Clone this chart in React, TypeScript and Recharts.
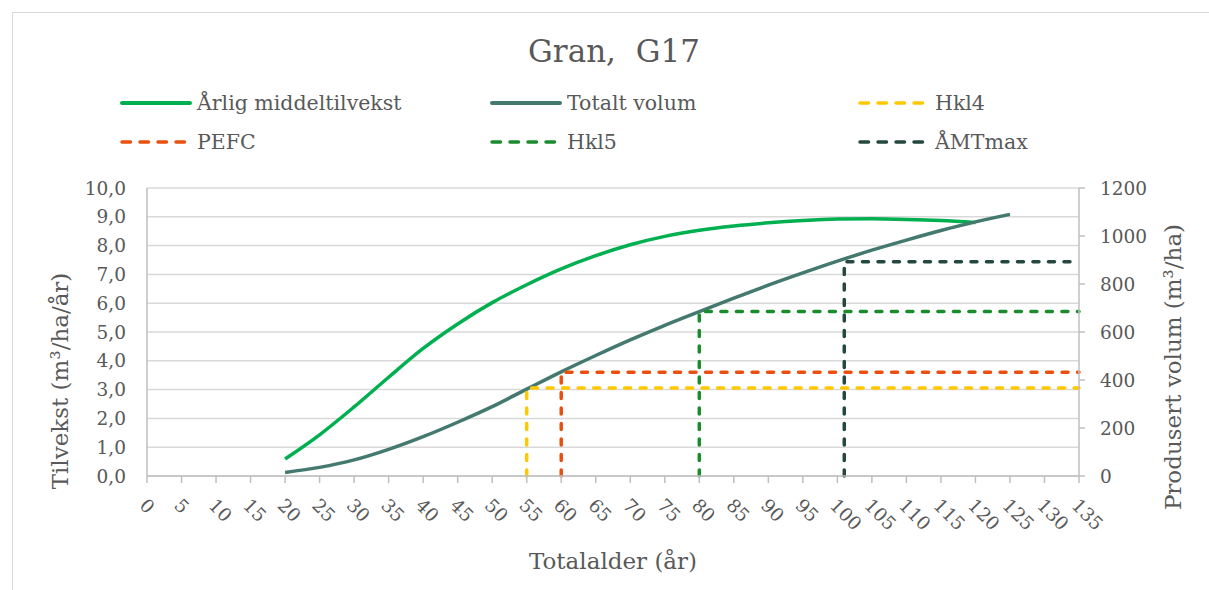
import { ComposedChart, Line, XAxis, YAxis, CartesianGrid, Label } from 'recharts'

// Alder (år) for kurvene
const ages = [20, 25, 30, 35, 40, 45, 50, 55, 60, 65, 70, 75, 80, 85, 90, 95, 100, 105, 110, 115, 120, 125]

// Årlig middeltilvekst (m³/ha/år), venstre akse
const middeltilvekst = [0.59, 1.43, 2.4, 3.43, 4.43, 5.28, 6.02, 6.64, 7.19, 7.65, 8.03, 8.32, 8.53, 8.68, 8.79, 8.87, 8.92, 8.93, 8.91, 8.87, 8.8, null]

// Totalt volum (m³/ha), høyre akse
const totaltVolum = [15, 36, 67, 111, 164, 224, 289, 362, 434, 502, 567, 628, 685, 741, 795, 846, 895, 941, 983, 1023, 1059, 1090]

const xTicks = [0, 5, 10, 15, 20, 25, 30, 35, 40, 45, 50, 55, 60, 65, 70, 75, 80, 85, 90, 95, 100, 105, 110, 115, 120, 125, 130, 135]
const leftTicks = [0, 1, 2, 3, 4, 5, 6, 7, 8, 9, 10]
const rightTicks = [0, 200, 400, 600, 800, 1000, 1200]

// Stiplede markeringer: alder og volum
const markerNames = ['Hkl4', 'PEFC', 'Hkl5', 'ÅMTmax']
const markerAges = [55, 60, 80, 101]
const markerVolum = [367, 432, 685, 893]
const markerColors = ['#ffc800', '#e9500f', '#1a8c2e', '#24473f']

const FONT = '"DejaVu Serif", Georgia, serif'
const TEXT = '#595959'
const GREEN = '#00b050'
const TEAL = '#44796f'

const data = ages.map((age, i) => ({ age, amt: middeltilvekst[i], vol: totaltVolum[i] }))

const markers = markerNames.map((name, i) => ({
  name,
  color: markerColors[i],
  data: [
    { age: markerAges[i], vol: 0 },
    { age: markerAges[i], vol: markerVolum[i] },
    { age: 135, vol: markerVolum[i] },
  ],
}))

const legendItems = [
  { name: 'Årlig middeltilvekst', color: GREEN, dashed: false },
  { name: 'Totalt volum', color: TEAL, dashed: false },
  { name: markerNames[0], color: markerColors[0], dashed: true },
  { name: markerNames[1], color: markerColors[1], dashed: true },
  { name: markerNames[2], color: markerColors[2], dashed: true },
  { name: markerNames[3], color: markerColors[3], dashed: true },
]
const legendCols = [120, 490, 858]
const legendRows = [103, 142]

function AgeTick({ x, y, payload }: any) {
  const px = x - 4
  const py = y + 19
  return (
    <text
      x={px}
      y={py}
      transform={`rotate(45 ${px} ${py})`}
      textAnchor="start"
      dominantBaseline="central"
      fill={TEXT}
      fontSize={18.5}
      fontFamily={FONT}
    >
      {payload.value}
    </text>
  )
}

function VerticalTitle({ viewBox, value, dx, dy }: any) {
  const cx = viewBox.x + dx
  const cy = viewBox.y + viewBox.height / 2 + dy
  return (
    <text
      x={cx}
      y={cy}
      transform={`rotate(-90 ${cx} ${cy})`}
      textAnchor="middle"
      dominantBaseline="central"
      fill={TEXT}
      fontSize={23}
      fontFamily={FONT}
    >
      {value}
    </text>
  )
}

export default function App() {
  return (
    <div style={{ position: 'absolute', left: 0, top: 0, width: 1209, height: 590, overflow: 'hidden', background: '#fff' }}>
      <div style={{
        position: 'absolute',
        left: 12,
        top: 12,
        width: 1209,
        height: 590,
        borderTop: '1.5px solid #d9d9d9',
        borderLeft: '1.5px solid #d9d9d9',
      }} />
      <div style={{
        position: 'absolute',
        left: 0,
        width: 1228,
        top: 33,
        textAlign: 'center',
        fontFamily: FONT,
        fontSize: 31,
        color: TEXT,
        whiteSpace: 'pre',
      }}>
        Gran,  G17
      </div>

      {/* forklaring */}
      {legendItems.map((item, i) => (
        <div key={item.name} style={{
          position: 'absolute',
          left: legendCols[i % 3],
          top: legendRows[Math.floor(i / 3)] - 14,
          height: 28,
          display: 'flex',
          alignItems: 'center',
          fontFamily: FONT,
          fontSize: 20.5,
          color: TEXT,
        }}>
          <svg width={72} height={8} style={{ marginRight: 5 }}>
            <line
              x1={2}
              x2={70}
              y1={4}
              y2={4}
              stroke={item.color}
              strokeWidth={item.dashed ? 3.5 : 4}
              strokeDasharray={item.dashed ? '8.5 9.5' : undefined}
              strokeLinecap="round"
            />
          </svg>
          {item.name}
        </div>
      ))}

      <ComposedChart
        width={1209}
        height={590}
        data={data}
        margin={{ top: 188, right: 0, bottom: 14, left: 12 }}
        style={{ position: 'absolute', left: 0, top: 0 }}
      >
        <CartesianGrid yAxisId="left" vertical={false} stroke="#d9d9d9" strokeWidth={1.5} />
        <XAxis
          dataKey="age"
          type="number"
          domain={[0, 135]}
          ticks={xTicks}
          interval={0}
          height={100}
          stroke="#bfbfbf"
          strokeWidth={1.5}
          tickSize={7}
          tickMargin={0}
          tick={<AgeTick />}
        >
          <Label
            position="insideBottom"
            offset={7}
            value="Totalalder (år)"
            fill={TEXT}
            fontSize={23}
            fontFamily={FONT}
          />
        </XAxis>
        <YAxis
          yAxisId="left"
          orientation="left"
          width={135}
          domain={[0, 10]}
          ticks={leftTicks}
          interval={0}
          stroke="#bfbfbf"
          strokeWidth={1.5}
          tickLine={false}
          tickSize={0}
          tickMargin={21}
          tick={{ fill: TEXT, fontSize: 18.5, fontFamily: FONT }}
          tickFormatter={(v: number) => v.toFixed(1).replace('.', ',')}
        >
          <Label content={<VerticalTitle value="Tilvekst (m³/ha/år)" dx={48} dy={49} />} />
        </YAxis>
        <YAxis
          yAxisId="right"
          orientation="right"
          width={130}
          domain={[0, 1200]}
          ticks={rightTicks}
          interval={0}
          stroke="#bfbfbf"
          strokeWidth={1.5}
          tickSize={6}
          tickMargin={15}
          tick={{ fill: TEXT, fontSize: 18.5, fontFamily: FONT, textAnchor: 'start' }}
        >
          <Label content={<VerticalTitle value="Produsert volum (m³/ha)" dx={94} dy={35} />} />
        </YAxis>

        <Line
          yAxisId="left"
          dataKey="amt"
          type="monotone"
          stroke={GREEN}
          strokeWidth={3.5}
          dot={false}
          activeDot={false}
          connectNulls={false}
          isAnimationActive={false}
        />
        <Line
          yAxisId="right"
          dataKey="vol"
          type="monotone"
          stroke={TEAL}
          strokeWidth={3.5}
          dot={false}
          activeDot={false}
          isAnimationActive={false}
        />
        {markers.map((m) => (
          <Line
            key={m.name}
            yAxisId="right"
            data={m.data}
            dataKey="vol"
            name={m.name}
            type="linear"
            stroke={m.color}
            strokeWidth={3.5}
            strokeDasharray="6 9.5"
            strokeLinecap="round"
            dot={false}
            activeDot={false}
            isAnimationActive={false}
          />
        ))}
      </ComposedChart>
    </div>
  )
}
